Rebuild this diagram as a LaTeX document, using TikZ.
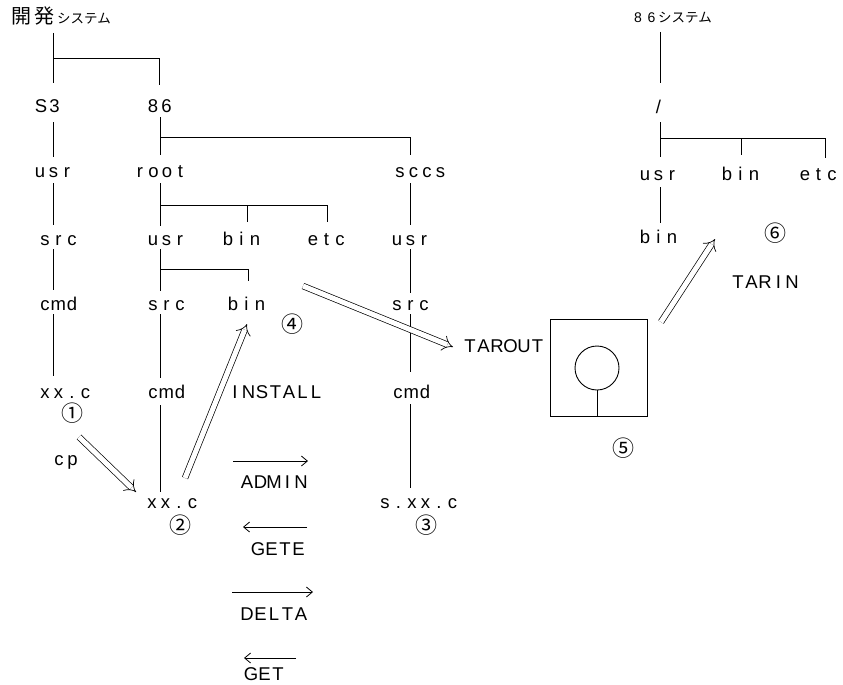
\documentclass[tikz,border=0pt]{standalone}
\usepackage{fontspec}
\setmainfont{Liberation Sans}
\newfontfamily\cjk{Noto Sans CJK JP}
\usetikzlibrary{arrows.meta}
\newcommand\mtxtend{}
\def\mtxtloop#1{\ifx#1\mtxtend\else\hbox to 13.5pt{\hss#1\hss}\expandafter\mtxtloop\fi}
\newcommand\mtxt[1]{\mtxtloop#1\mtxtend}
\tikzset{
  lbl/.style={inner sep=0pt, anchor=base west, font=\fontsize{18.5}{20}\selectfont},
  num/.style={inner sep=0pt, anchor=center, font=\cjk\fontsize{22}{22}\selectfont},
  tree/.style={line width=0.9pt},
  dbl/.style={line width=0.7pt, double distance=5pt, -{Implies[scale=1.3]}},
  sgl/.style={line width=0.8pt, -{Straight Barb[length=6pt,width=10pt]}},
}
\begin{document}
\begin{tikzpicture}[x=1pt,y=-1pt]
\useasboundingbox (0,0) rectangle (843,685);
% ---------- left: development system ----------
\node[lbl] (dev) at (11,24) {{\cjk\fontsize{20}{20}\selectfont 開\hspace{3pt}発}\hspace{3pt}{\cjk\fontsize{13.5}{14}\selectfont システム}};
\node[lbl] (s3) at (34,112) {\mtxt{S3}};
\node[lbl] (e86) at (146,112) {\mtxt{86}};
\node[lbl] (usrA) at (33,177) {\mtxt{usr}};
\node[lbl] (root) at (133,177) {\mtxt{root}};
\node[lbl] (sccs) at (393,177) {\mtxt{sccs}};
\node[lbl] (srcA) at (38,245) {\mtxt{src}};
\node[lbl] (usrB) at (146,245) {\mtxt{usr}};
\node[lbl] (binB) at (221,245) {\mtxt{bin}};
\node[lbl] (etcB) at (306,245) {\mtxt{etc}};
\node[lbl] (usrC) at (390,245) {\mtxt{usr}};
\node[lbl] (cmdA) at (38,310) {\mtxt{cmd}};
\node[lbl] (srcB) at (146,310) {\mtxt{src}};
\node[lbl] (binC) at (226,310) {\mtxt{bin}};
\node[lbl] (srcC) at (390,310) {\mtxt{src}};
\node[lbl] (xxA) at (38,398) {\mtxt{xx.c}};
\node[lbl] (cmdB) at (146,398) {\mtxt{cmd}};
\node[lbl] (install) at (228,398) {\mtxt{INSTALL}};
\node[lbl] (cmdC) at (391,398) {\mtxt{cmd}};
\node[lbl] (xxB) at (145,508) {\mtxt{xx.c}};
\node[lbl] (sxx) at (378,508) {\mtxt{s.xx.c}};
\node[lbl] (cp) at (52,465) {\mtxt{cp}};
\node[lbl] (tarout) at (463,352) {\mtxt{TAROUT}};
\node[lbl] (admin) at (240,488) {\mtxt{ADMIN}};
\node[lbl] (gete) at (251,555) {\mtxt{GETE}};
\node[lbl] (delta) at (240,620) {\mtxt{DELTA}};
\node[lbl] (get) at (244,680) {\mtxt{GET}};
\node[num] (n1) at (72,413) {①};
\node[num] (n2) at (180,525) {②};
\node[num] (n3) at (426,525) {③};
\node[num] (n4) at (292,324) {④};
\node[num] (n5) at (623,448) {⑤};
\node[num] (n6) at (775,233) {⑥};
% tree lines (left)
\draw[tree] (53,33) -- (53,83);
\draw[tree] (53,58) -- (159,58) -- (159,85);
\draw[tree] (53,122) -- (53,157);
\draw[tree] (53,183) -- (53,225);
\draw[tree] (53,249) -- (53,290);
\draw[tree] (53,314) -- (53,376);
\draw[tree] (160,117) -- (160,155);
\draw[tree] (160,137) -- (410,137) -- (410,155);
\draw[tree] (160,183) -- (160,226);
\draw[tree] (160,205) -- (327,205) -- (327,222);
\draw[tree] (247,205) -- (247,222);
\draw[tree] (160,249) -- (160,291);
\draw[tree] (160,269) -- (248,269) -- (248,281);
\draw[tree] (160,314) -- (160,378);
\draw[tree] (160,405) -- (160,492);
\draw[tree] (410,183) -- (410,225);
\draw[tree] (410,249) -- (410,293);
\draw[tree] (410,314) -- (410,372);
\draw[tree] (410,404) -- (410,488);
% ---------- tape ----------
\node[draw, line width=0.9pt, minimum width=97pt, minimum height=97pt, inner sep=0pt] (tape) at (598.5,367.5) {};
\draw[tree] (597,368) circle (22);
\draw[tree] (597,390) -- (tape.south -| 597,0);
% ---------- right: 86 system ----------
\node[lbl] (sys86) at (631,23) {{\fontsize{14}{14}\selectfont\mtxt{86}}{\cjk\fontsize{13.5}{14}\selectfont システム}};
\node[lbl] (slash) at (651.5,113) {\mtxt{/}};
\node[lbl] (usrR) at (638,180) {\mtxt{usr}};
\node[lbl] (binR) at (720,180) {\mtxt{bin}};
\node[lbl] (etcR) at (798,180) {\mtxt{etc}};
\node[lbl] (binS) at (638,243) {\mtxt{bin}};
\node[lbl] (tarin) at (731,288) {\mtxt{TARIN}};
\draw[tree] (660,32) -- (660,83);
\draw[tree] (660,122) -- (660,157);
\draw[tree] (660,138) -- (825,138) -- (825,158);
\draw[tree] (741,138) -- (741,155);
\draw[tree] (660,187) -- (660,223);
% ---------- arrows ----------
\coordinate (cpT) at (79,437);   \coordinate (cpH) at (136,492);
\coordinate (inT) at (185,478);  \coordinate (inH) at (247,324);
\coordinate (toT) at (303,286);  \coordinate (toH) at (453,347);
\coordinate (tiT) at (661,322);  \coordinate (tiH) at (715,239);
\draw[dbl] (cpT) -- (cpH);
\draw[dbl] (inT) -- (inH);
\draw[dbl] (toT) -- (toH);
\draw[dbl] (tiT) -- (tiH);
\coordinate (a1) at (233,461); \coordinate (a2) at (308,461);
\coordinate (g1) at (307,527); \coordinate (g2) at (243,527);
\coordinate (d1) at (232,592); \coordinate (d2) at (313,592);
\coordinate (h1) at (296,658); \coordinate (h2) at (244,658);
\draw[sgl] (a1) -- (a2);
\draw[sgl] (g1) -- (g2);
\draw[sgl] (d1) -- (d2);
\draw[sgl] (h1) -- (h2);
\end{tikzpicture}
\end{document}
